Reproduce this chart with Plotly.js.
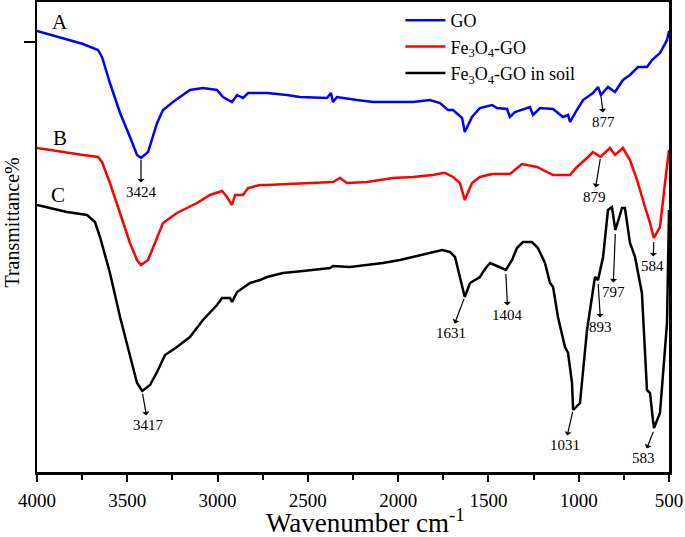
<!DOCTYPE html>
<html>
<head>
<meta charset="utf-8">
<script src="https://cdn.plot.ly/plotly-3.0.1.min.js"></script>
<style>html,body{margin:0;padding:0;background:#fff;}#chart{width:685px;height:537px;}</style>
</head>
<body>
<div id="chart"></div>
<script>
// GO (curve A)
const goWn = [4000,3856,3745,3662,3640,3596,3540,3485,3446,3424,3385,3335,3302,3247,3153,3081,3003,2970,2920,2892,2859,2831,2765,2726,2616,2544,2394,2372,2361,2339,2228,2139,2045,1918,1824,1768,1724,1696,1646,1631,1591,1547,1480,1453,1397,1381,1353,1270,1253,1214,1142,1087,1059,1048,1010,976,921,893,877,838,799,755,716,672,622,594,550,511,500];
const goT  = [441,434,428,422,415,389,359,335,317,314,320,349,362,370,382,384,382,375,370,377,374,379,379,379,377,375,374,379,370,375,372,370,370,370,372,369,362,362,354,340,355,364,367,364,363,355,360,365,357,364,363,355,357,350,362,372,379,385,377,385,380,392,397,405,405,412,419,432,441];
// Fe3O4-GO (curve B)
const feWn = [4000,3928,3834,3745,3662,3640,3596,3540,3485,3446,3424,3385,3335,3302,3225,3114,3042,2975,2948,2920,2903,2859,2831,2765,2726,2616,2488,2361,2322,2283,2172,2028,1918,1807,1752,1741,1696,1658,1631,1591,1547,1480,1381,1314,1231,1142,1048,1010,954,921,879,827,799,755,716,677,633,605,584,550,522,500];
const feT  = [324,322,319,317,315,310,289,259,229,212,207,212,235,249,259,269,277,281,275,267,277,277,284,287,287,288,289,290,294,289,290,294,295,297,299,299,295,289,272,289,295,298,298,308,305,297,297,305,314,320,315,324,317,324,312,292,265,249,234,245,289,322];
// Fe3O4-GO in soil (curve C)
const soilWn = [4000,3928,3834,3723,3679,3651,3596,3540,3485,3446,3417,3374,3335,3291,3225,3153,3081,3003,2975,2931,2920,2892,2820,2765,2726,2638,2527,2377,2361,2267,2084,1990,1896,1807,1757,1713,1685,1658,1631,1602,1547,1519,1491,1453,1404,1369,1342,1309,1259,1226,1187,1159,1142,1115,1076,1059,1037,1031,993,954,926,910,893,865,838,816,797,760,744,716,688,650,622,605,589,583,550,511,500];
const soilT  = [267,264,260,257,250,235,199,155,115,89,81,87,100,117,125,135,152,167,174,174,170,180,189,192,195,199,201,204,206,205,209,212,216,220,222,220,215,195,175,189,195,203,209,206,202,212,224,230,230,224,209,189,185,155,125,119,89,62,69,142,179,195,192,215,262,265,242,264,264,229,215,179,82,79,52,44,59,149,262];

const seriesNames = ['GO','Fe<sub>3</sub>O<sub>4</sub>-GO','Fe<sub>3</sub>O<sub>4</sub>-GO in soil'];
const seriesColors = ['#0000ff','#ff0000','#000000'];
const curveLetters = ['A','B','C'];
const letterPos = [[3873,450],[3873,334],[3884,277]];

// peak labels: [peak wavenumber, curve value], [text wavenumber, text value]
const peakLabels = ['3424','877','879','584','3417','1631','1404','893','797','1031','583'];
const peakAt = [[3424,314],[877,377],[879,315],[584,232],[3417,80],[1631,175],[1404,200],[893,190],[797,240],[1031,62],[583,42]];
const peakText = [[3424,280],[860,350],[915,275],[589,206],[3385,47],[1707,139],[1392,157],[877,145],[810,180],[1076,27],[644,14]];

const font = 'Liberation Serif, Times New Roman, serif';
const xs = [goWn, feWn, soilWn], ys = [goT, feT, soilT];
const data = xs.map((x,i)=>({x:x, y:ys[i], type:'scatter', mode:'lines', name:seriesNames[i],
  line:{color:seriesColors[i], width:2.5}}));

const annotations = [];
curveLetters.forEach((t,i)=>annotations.push({x:letterPos[i][0], y:letterPos[i][1], xref:'x', yref:'y', text:t, showarrow:false, font:{family:font, size:21, color:'#000'}}));
peakLabels.forEach((t,i)=>annotations.push({x:peakAt[i][0], y:peakAt[i][1], xref:'x', yref:'y',
  ax:peakText[i][0], ay:peakText[i][1], axref:'x', ayref:'y', text:t, showarrow:true,
  arrowside:'start', arrowhead:2, arrowsize:1.5, arrowwidth:1.2, arrowcolor:'#000', standoff:2,
  font:{family:font, size:15, color:'#000'}}));
annotations.push({xref:'paper', yref:'paper', x:0.52, y:-0.105, yanchor:'middle', text:'Wavenumber cm<sup>-1</sup>', showarrow:false, font:{family:font, size:27, color:'#000'}});
annotations.push({xref:'paper', yref:'paper', x:-0.04, y:0.53, xanchor:'center', textangle:-90, text:'Transmittance%', showarrow:false, font:{family:font, size:20, color:'#000'}});

const layout = {
  width:685, height:537,
  margin:{l:37, r:16, t:2, b:65},
  paper_bgcolor:'#fff', plot_bgcolor:'#fff',
  showlegend:true,
  legend:{x:0.575, y:1.0, xanchor:'left', yanchor:'top', bgcolor:'rgba(0,0,0,0)', font:{family:font, size:18, color:'#000'}, itemwidth:40, tracegroupgap:0},
  xaxis:{range:[4000,500], tickvals:[4000,3500,3000,2500,2000,1500,1000,500], ticks:'outside', ticklen:7, tickwidth:2, tickcolor:'#000',
    minor:{tickvals:[3750,3250,2750,2250,1750,1250,750], ticks:'outside', ticklen:5, tickwidth:2, tickcolor:'#000'},
    showline:true, linewidth:2.5, linecolor:'#000', mirror:true, showgrid:false, zeroline:false,
    tickfont:{family:font, size:19, color:'#000'}, ticklabelstandoff:3},
  yaxis:{range:[0,470], tickvals:[430], ticks:'outside', ticklen:11, tickwidth:2, tickcolor:'#000', showticklabels:false,
    showline:true, linewidth:2.5, linecolor:'#000', mirror:true, showgrid:false, zeroline:false},
  annotations:annotations
};
Plotly.newPlot('chart', data, layout, {displayModeBar:false, staticPlot:true});
</script>
</body>
</html>
